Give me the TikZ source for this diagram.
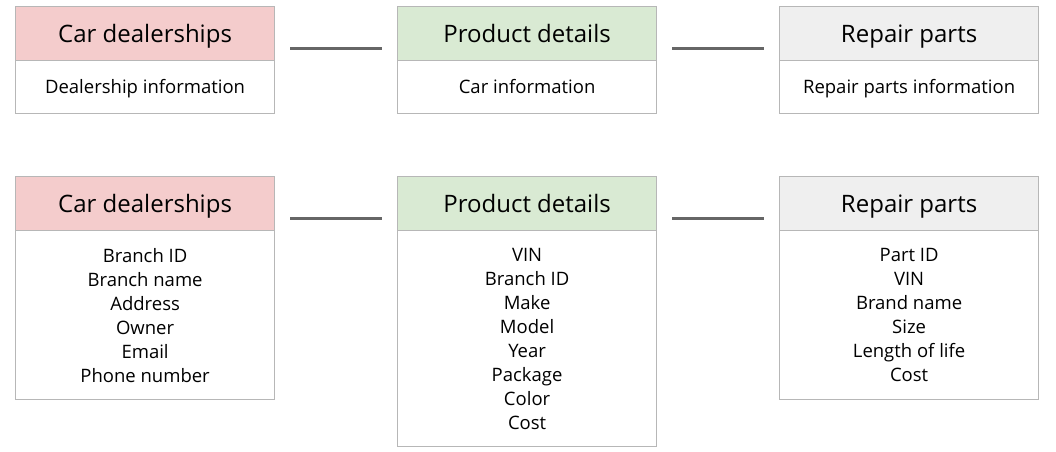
\documentclass[tikz,border=0pt]{standalone}
\usepackage{fontspec}
\setmainfont{Open Sans}
\usetikzlibrary{positioning}
\definecolor{hdrpink}{RGB}{244, 204, 204}
\definecolor{hdrgreen}{RGB}{217, 234, 211}
\definecolor{hdrgray}{RGB}{239, 239, 239}
\definecolor{boxline}{RGB}{183, 183, 183}
\definecolor{linkgray}{RGB}{102, 102, 102}
\tikzset{
  hdr/.style = {draw = boxline, line width = 1.2pt, minimum width = 259pt, minimum height = 54pt, anchor = north west, inner sep = 0pt, text height = 17pt, text depth = 0pt, font = \fontsize{24}{28}\selectfont},
  fields/.style = {draw = boxline, line width = 1.2pt, minimum width = 259pt, anchor = north west, inner sep = 0pt, align = center, font = \fontsize{18.5}{24}\selectfont},
  oneline/.style = {text height = 13pt, text depth = 0pt},
  link/.style = {draw = linkgray, line width = 2.5pt, shorten < = 15pt, shorten > = 15pt}
}

\begin{document}
\begin{tikzpicture}[x = 1pt, y = -1pt]
			\useasboundingbox (0,0) rectangle (1056,451);
			% top row
			\node (dealhdr) at (15,6) [hdr, fill = hdrpink] {Car dealerships};
			\node (prodhdr) at (397,6) [hdr, fill = hdrgreen] {Product details};
			\node (parthdr) at (779,6) [hdr, fill = hdrgray] {Repair parts};
			\node (dealinfo) at (15,60) [fields, oneline, minimum height = 53pt] {Dealership information};
			\node (prodinfo) at (397,60) [fields, oneline, minimum height = 53pt] {Car information};
			\node (partinfo) at (779,60) [fields, oneline, minimum height = 53pt] {Repair parts information};
			\draw [link] ([yshift = -15pt]dealhdr.east) -- ([yshift = -15pt]prodhdr.west);
			\draw [link] ([yshift = -15pt]prodhdr.east) -- ([yshift = -15pt]parthdr.west);
			% bottom row
			\node (dealtab) at (15,176) [hdr, fill = hdrpink] {Car dealerships};
			\node (prodtab) at (397,176) [hdr, fill = hdrgreen] {Product details};
			\node (parttab) at (779,176) [hdr, fill = hdrgray] {Repair parts};
			\node (dealcols) at (15,230) [fields, minimum height = 169pt] {Branch ID\\Branch name\\Address\\Owner\\Email\\Phone number};
			\node (prodcols) at (397,230) [fields, minimum height = 216pt] {VIN\\Branch ID\\Make\\Model\\Year\\Package\\Color\\Cost};
			\node (partcols) at (779,230) [fields, minimum height = 169pt] {Part ID\\VIN\\Brand name\\Size\\Length of life\\Cost};
			\draw [link] ([yshift = -15pt]dealtab.east) -- ([yshift = -15pt]prodtab.west);
			\draw [link] ([yshift = -15pt]prodtab.east) -- ([yshift = -15pt]parttab.west);
			\end{tikzpicture}
\end{document}
